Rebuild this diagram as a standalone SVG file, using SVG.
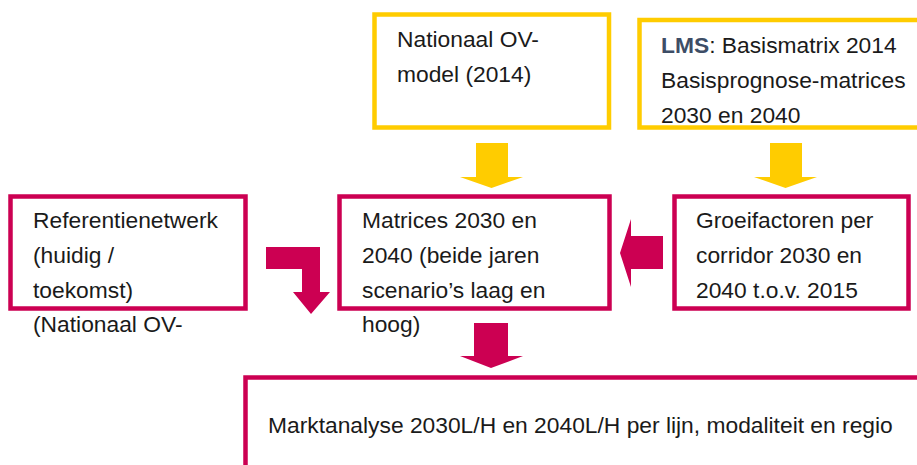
<svg xmlns="http://www.w3.org/2000/svg" width="917" height="465" viewBox="0 0 917 465">
<style>
  .y { fill: none; stroke: #FFCC00; stroke-width: 4.5; }
  .r { fill: none; stroke: #CC0052; stroke-width: 4.5; }
  .ya { fill: #FFCC00; }
  .ra { fill: #CC0052; }
  text { font-family: "Liberation Sans", Arial, sans-serif; font-size: 22.8px; fill: #1a1a1a; }
  .lms { fill: #3D4D66; font-weight: bold; }
</style>
<rect width="917" height="465" fill="#ffffff"/>
<g id="n1">
  <rect class="y" x="374.5" y="14.5" width="234.5" height="113"/>
  <text x="397" y="47">Nationaal OV-</text>
  <text x="397" y="82">model (2014)</text>
</g>
<g id="n2">
  <rect class="y" x="639.5" y="20" width="290" height="107.5"/>
  <text x="661" y="53"><tspan class="lms">LMS</tspan>: Basismatrix 2014</text>
  <text x="661" y="88">Basisprognose-matrices</text>
  <text x="661" y="123">2030 en 2040</text>
</g>
<g id="n3">
  <rect class="r" x="10.5" y="196.5" width="235" height="112"/>
  <text x="33" y="228">Referentienetwerk</text>
  <text x="33" y="263">(huidig /</text>
  <text x="33" y="298">toekomst)</text>
  <text x="33" y="332">(Nationaal OV-</text>
</g>
<g id="n4">
  <rect class="r" x="339.5" y="196.5" width="270" height="112"/>
  <text x="362" y="228">Matrices 2030 en</text>
  <text x="362" y="263">2040 (beide jaren</text>
  <text x="362" y="298">scenario’s laag en</text>
  <text x="362" y="332">hoog)</text>
</g>
<g id="n5">
  <rect class="r" x="674.5" y="196.5" width="234" height="112"/>
  <text x="696" y="228">Groeifactoren per</text>
  <text x="696" y="263">corridor 2030 en</text>
  <text x="696" y="298">2040 t.o.v. 2015</text>
</g>
<g id="n6">
  <rect class="r" x="245.5" y="377.5" width="700" height="100"/>
  <text x="268" y="433">Marktanalyse 2030L/H en 2040L/H per lijn, modaliteit en regio</text>
</g>
<g id="connectors">
  <polygon class="ya" points="476,143 508,143 508,177 523,177 491.5,188 460,177 476,177"/>
  <polygon class="ya" points="770,143 802,143 802,177 817,177 785.5,188 754,177 770,177"/>
  <polygon class="ra" points="474,323 508,323 508,356 523,356 491,368 460,356 474,356"/>
  <polygon class="ra" points="663,236 663,269 631,269 631,287 620,253 631,219 631,236"/>
  <polygon class="ra" points="266,247 320,247 320,292 330,292 311,314 293,292 302,292 302,269 266,269"/>
</g>
</svg>
